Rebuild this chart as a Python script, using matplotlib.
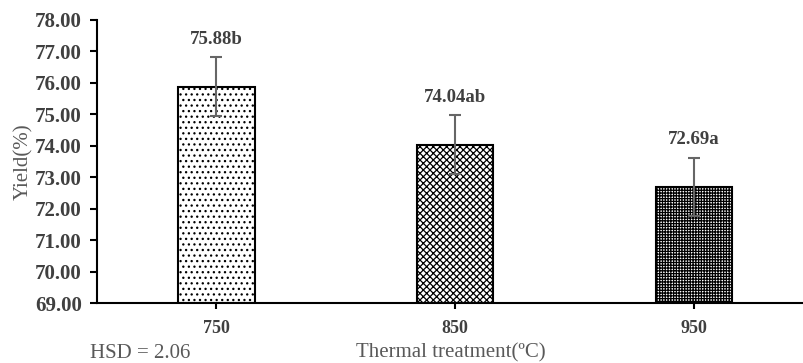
import matplotlib.pyplot as plt

# data
treatments = ['750', '850', '950']
yields = [75.88, 74.04, 72.69]
errors = [0.93, 0.93, 0.93]
letters = ['b', 'ab', 'a']
hatches = ['...', 'xxxxx', '++++++']
hsd = 2.06

plt.rcParams['font.family'] = ['Liberation Serif', 'DejaVu Serif']
plt.rcParams['hatch.linewidth'] = 0.9

fig = plt.figure(figsize=(8.04, 3.63), dpi=100)
ax = fig.add_axes([0.1206, 0.165, 0.8794, 0.78])

x = list(range(len(treatments)))
for i in x:
    ax.bar(i, yields[i] - 69, bottom=69, width=0.32, color='white',
           edgecolor='black', hatch=hatches[i], linewidth=1.5, zorder=2)
ax.errorbar(x, yields, yerr=errors, fmt='none', ecolor='#666666',
            elinewidth=1.5, capsize=4, capthick=1.5, zorder=3)

for i in x:
    ax.annotate(f'{yields[i]:.2f}{letters[i]}', (i, yields[i] + errors[i]),
                xytext=(0, 7), textcoords='offset points', ha='center',
                va='bottom', fontsize=13.5, fontweight='bold', color='#404040')

ax.set_xlim(-0.5, 2.46)
ax.set_ylim(69, 78)
ax.set_yticks([69 + k for k in range(10)])
ax.set_yticklabels([f'{69 + k:.2f}' for k in range(10)])
ax.set_xticks(x)
ax.set_xticklabels(treatments)

for lbl in ax.get_yticklabels():
    lbl.set_fontweight('bold')
    lbl.set_color('#404040')
    lbl.set_fontsize(15)
for lbl in ax.get_xticklabels():
    lbl.set_fontweight('bold')
    lbl.set_color('#404040')
    lbl.set_fontsize(13)

ax.spines['top'].set_visible(False)
ax.spines['right'].set_visible(False)
ax.spines['left'].set_linewidth(1.5)
ax.spines['bottom'].set_linewidth(1.5)
ax.tick_params(axis='y', length=5, width=1.5, pad=6)
ax.tick_params(axis='x', length=4, width=1.5, pad=8)

ax.set_ylabel('Yield(%)', fontsize=15, color='#595959', labelpad=1)
ax.set_xlabel('Thermal treatment(ºC)', fontsize=15, color='#595959',
              labelpad=5)
fig.text(0.112, 0.015, f'HSD = {hsd:.2f}', fontsize=15, color='#595959')

fig.savefig('out.png', dpi=100)
